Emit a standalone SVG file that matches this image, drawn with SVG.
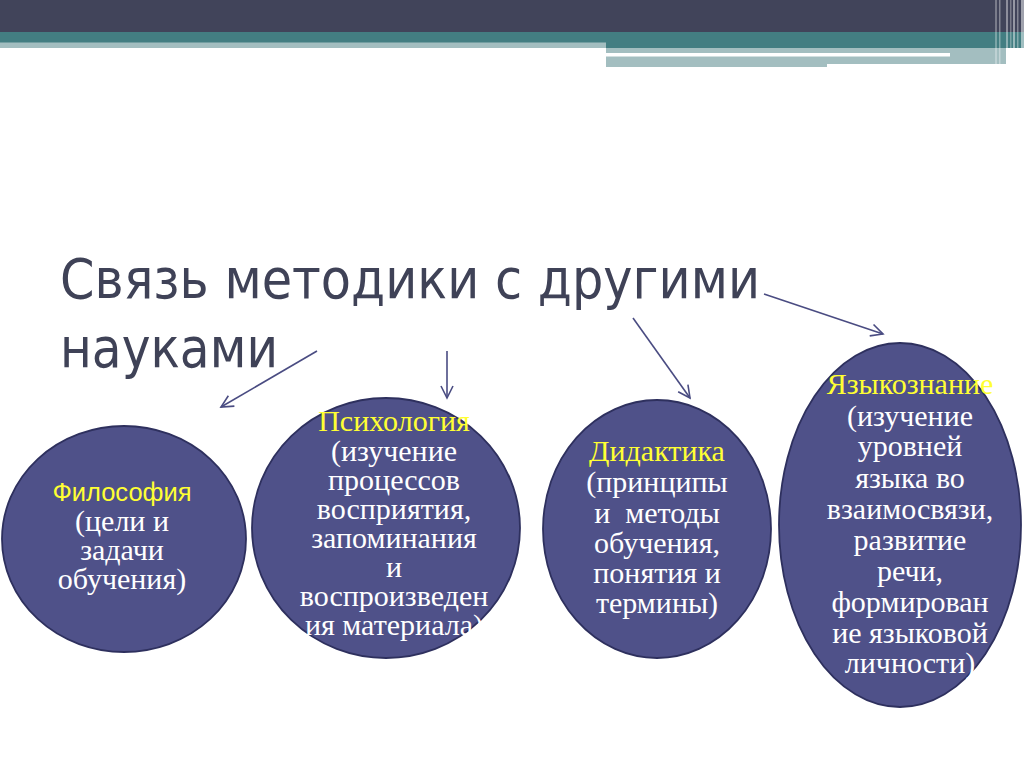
<svg xmlns="http://www.w3.org/2000/svg" width="1024" height="767" viewBox="0 0 1024 767">
  <style>
    .node { fill: #4f5189; stroke: #2e305e; stroke-width: 1.8; }
    .t { font-family: "Liberation Serif", "Times New Roman", serif; font-size: 30px; fill: #ffffff; text-anchor: middle; }
    .y { fill: #ffff33; }
    .ya { font-family: "Liberation Sans", Arial, sans-serif; font-size: 25.5px; fill: #ffff33; text-anchor: middle; }
    .title { font-family: "DejaVu Sans Condensed", "DejaVu Sans", sans-serif; font-size: 56px; fill: #3f4257; }
    .conn { stroke: #4a4c82; stroke-width: 1.6; fill: none; marker-end: url(#arr); }
  </style>
  <defs>
    <marker id="arr" markerUnits="userSpaceOnUse" markerWidth="16" markerHeight="16" refX="13" refY="7" orient="auto">
      <path d="M1,1 L13,7 L1,13" fill="none" stroke="#4a4c82" stroke-width="1.6"/>
    </marker>
  </defs>
  <rect width="1024" height="767" fill="#ffffff"/>
  <!-- header bars -->
  <g id="header">
    <rect x="0" y="0" width="1024" height="32" fill="#41445a"/>
    <rect x="0" y="32" width="1024" height="16" fill="#437e82"/>
    <rect x="0" y="42.5" width="606" height="5.5" fill="#a3bec0"/>
    <rect x="606" y="48" width="400" height="19" fill="#a3bec0"/>
    <rect x="606" y="53" width="344" height="3.5" fill="#ffffff"/>
    <rect x="827" y="64" width="180" height="4" fill="#ffffff"/>
    <rect x="995" y="0" width="2" height="67" fill="#ffffff" opacity="0.3"/>
    <rect x="999" y="0" width="1.5" height="67" fill="#ffffff" opacity="0.35"/>
    <rect x="1006" y="0" width="2" height="67" fill="#ffffff" opacity="0.4"/>
    <rect x="1010" y="0" width="1.5" height="67" fill="#ffffff" opacity="0.3"/>
    <rect x="1013" y="0" width="2" height="67" fill="#ffffff" opacity="0.45"/>
    <rect x="1017" y="0" width="1.5" height="67" fill="#ffffff" opacity="0.35"/>
    <rect x="1021" y="0" width="3" height="67" fill="#ffffff" opacity="0.5"/>
  </g>
  <!-- title -->
  <g id="title">
    <text class="title" x="60" y="298" textLength="700" lengthAdjust="spacingAndGlyphs">Связь методики с другими</text>
    <text class="title" x="60" y="367" textLength="218" lengthAdjust="spacingAndGlyphs">науками</text>
  </g>
  <!-- connectors -->
  <g id="connectors">
    <line class="conn" x1="317" y1="351" x2="221" y2="407"/>
    <line class="conn" x1="447" y1="351" x2="447" y2="398"/>
    <line class="conn" x1="633" y1="318" x2="690" y2="398"/>
    <line class="conn" x1="764" y1="294" x2="883" y2="334"/>
  </g>
  <!-- nodes -->
  <g id="philosophy">
    <ellipse class="node" cx="124" cy="539" rx="122" ry="113"/>
    <text class="ya" x="122" y="501">Философия</text>
    <text class="t" x="122" y="531">(цели и</text>
    <text class="t" x="122" y="560">задачи</text>
    <text class="t" x="122" y="589">обучения)</text>
  </g>
  <g id="psychology">
    <ellipse class="node" cx="386" cy="528" rx="134" ry="130"/>
    <text class="t y" x="394" y="431">Психология</text>
    <text class="t" x="394" y="461">(изучение</text>
    <text class="t" x="394" y="490">процессов</text>
    <text class="t" x="394" y="519">восприятия,</text>
    <text class="t" x="394" y="548">запоминания</text>
    <text class="t" x="394" y="577">и</text>
    <text class="t" x="394" y="606">воспроизведен</text>
    <text class="t" x="394" y="635">ия материала)</text>
  </g>
  <g id="didactics">
    <ellipse class="node" cx="657" cy="529" rx="114" ry="129"/>
    <text class="t y" x="657" y="461">Дидактика</text>
    <text class="t" x="657" y="492">(принципы</text>
    <text class="t" x="657" y="523" xml:space="preserve">и  методы</text>
    <text class="t" x="657" y="553">обучения,</text>
    <text class="t" x="657" y="583">понятия и</text>
    <text class="t" x="657" y="613">термины)</text>
  </g>
  <g id="linguistics">
    <ellipse class="node" cx="900" cy="525" rx="121" ry="182"/>
    <text class="t y" x="910" y="394">Языкознание</text>
    <text class="t" x="910" y="426">(изучение</text>
    <text class="t" x="910" y="456">уровней</text>
    <text class="t" x="910" y="488">языка во</text>
    <text class="t" x="910" y="519">взаимосвязи,</text>
    <text class="t" x="910" y="550">развитие</text>
    <text class="t" x="910" y="581">речи,</text>
    <text class="t" x="910" y="612">формирован</text>
    <text class="t" x="910" y="643">ие языковой</text>
    <text class="t" x="910" y="673">личности)</text>
  </g>
</svg>
